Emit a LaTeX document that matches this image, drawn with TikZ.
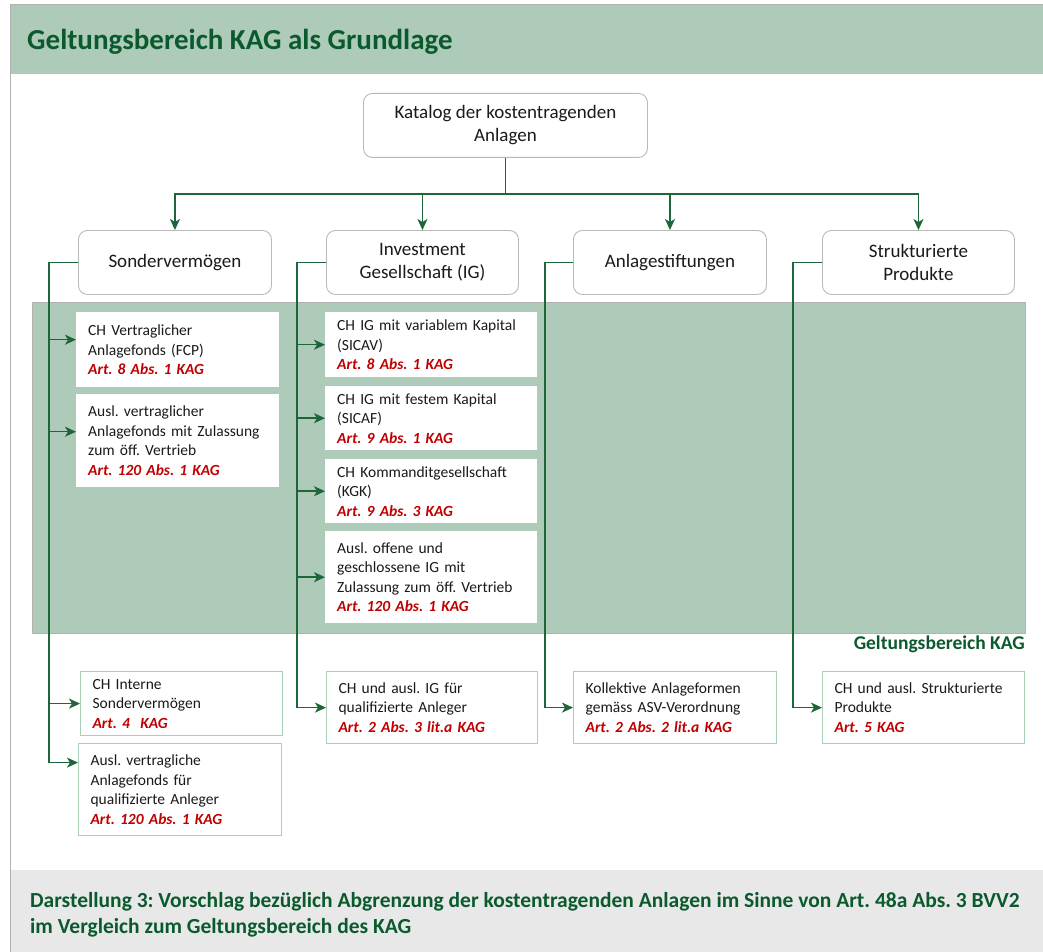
\documentclass[tikz,border=0pt]{standalone}
\usepackage{fontspec}
\setmainfont{Carlito}
\usetikzlibrary{arrows.meta}
\definecolor{hdr}{HTML}{AECBB9}
\definecolor{dg}{HTML}{0B5A2E}
\definecolor{ln}{HTML}{1E6639}
\definecolor{rd}{HTML}{C00000}
\definecolor{bxl}{HTML}{A9D0B5}
\definecolor{txt}{HTML}{1A1A1A}
\definecolor{capbg}{HTML}{E8E8E8}
\newcommand{\art}[1]{{\color{rd}\bfseries\itshape #1}}
\frenchspacing
\tikzset{
  catbox/.style={draw=gray!55, line width=0.9pt, rounded corners=9pt, fill=white, anchor=north west,
    align=center, text=txt, font=\fontsize{19}{23}\selectfont, minimum height=64pt, inner sep=0pt},
  ibox/.style={fill=white, anchor=north west, align=left, text=txt, inner xsep=12pt, inner ysep=0pt,
    font=\fontsize{15.5}{19.5}\selectfont},
  obox/.style={ibox, draw=bxl, line width=1.2pt},
  arr/.style={draw=ln, line width=1.5pt, -{Stealth[length=11pt,width=10pt,inset=3pt]}},
}
\begin{document}
\begin{tikzpicture}[x=1pt,y=-1pt]
\useasboundingbox (0,0) rectangle (1043,952);
\fill[white] (0,0) rectangle (1043,952);
% header
\fill[hdr] (11,5) rectangle (1043,74);
\draw[gray!60, line width=1pt] (10,5) -- (1043,5);
\draw[gray!60, line width=1pt] (10,5) -- (10,952);
\node[anchor=west, text=dg, font=\fontsize{29}{34}\selectfont\bfseries, inner sep=0pt] (title) at (27,42) {Geltungsbereich KAG als Grundlage};
% caption band
\fill[capbg] (11,870) rectangle (1043,952);
\node[anchor=north west, align=left, text=dg, font=\fontsize{21.5}{26}\selectfont\bfseries, inner sep=0pt] (cap) at (30,892)
  {Darstellung 3: Vorschlag bezüglich Abgrenzung der kostentragenden Anlagen im Sinne von Art. 48a Abs. 3 BVV2\\im Vergleich zum Geltungsbereich des KAG};
% KAG area
\node[fill=hdr, draw=gray!60, line width=0.8pt, anchor=north west, minimum width=993pt, minimum height=331pt, inner sep=0pt] (kag) at (32,302) {};
\node[anchor=north east, text=dg, font=\fontsize{19.5}{22}\selectfont\bfseries, inner sep=0pt] (kaglbl) at (1025,636) {Geltungsbereich KAG};
% top
\node[catbox, minimum width=284pt] (cat) at (363,93) {Katalog der kostentragenden\\Anlagen};
\node[catbox, minimum width=193pt] (sv) at (78,230) {Sondervermögen};
\node[catbox, minimum width=192pt] (ig) at (326,230) {Investment\\Gesellschaft (IG)};
\node[catbox, minimum width=193pt] (as) at (573,230) {Anlagestiftungen};
\node[catbox, minimum width=192pt] (sp) at (822,230) {Strukturierte\\Produkte};
\foreach \t in {sv,ig,as,sp}{
  \draw[arr] (cat.south) -- ++(0,36) -| (\t.north);
}
% Sondervermoegen column
\node[ibox, text width=179pt, minimum height=75pt] (s1) at (76,312) {CH Vertraglicher\\Anlagefonds (FCP)\\\art{Art. 8 Abs. 1 KAG}};
\node[ibox, text width=179pt, minimum height=93pt] (s2) at (76,394) {Ausl. vertraglicher\\Anlagefonds mit Zulassung\\zum öff. Vertrieb\\\art{Art. 120 Abs. 1 KAG}};
\node[obox, text width=178pt, minimum height=64pt] (b1) at (80,671) {CH Interne\\Sondervermögen\\\art{Art. 4\ \ KAG}};
\node[obox, text width=179pt, minimum height=92pt] (b2) at (78,743) {Ausl. vertragliche\\Anlagefonds für\\qualifizierte Anleger\\\art{Art. 120 Abs. 1 KAG}};
\draw[arr] (sv.west) -- ++(-29,0) |- ([yshift=10pt]s1.west);
\draw[arr] (sv.west) -- ++(-29,0) |- ([yshift=9pt]s2.west);
\draw[arr] (sv.west) -- ++(-29,0) |- (b1.west);
\draw[arr] (sv.west) -- ++(-29,0) |- ([yshift=27pt]b2.west);
% IG column
\node[ibox, text width=188pt, minimum height=65pt] (i1) at (325,312) {CH IG mit variablem Kapital\\(SICAV)\\\art{Art. 8 Abs. 1 KAG}};
\node[ibox, text width=188pt, minimum height=64pt] (i2) at (325,386) {CH IG mit festem Kapital\\(SICAF)\\\art{Art. 9 Abs. 1 KAG}};
\node[ibox, text width=188pt, minimum height=64pt] (i3) at (325,459) {CH Kommanditgesellschaft\\(KGK)\\\art{Art. 9 Abs. 3 KAG}};
\node[ibox, text width=188pt, minimum height=92pt] (i4) at (325,531) {Ausl. offene und\\geschlossene IG mit\\Zulassung zum öff. Vertrieb\\\art{Art. 120 Abs. 1 KAG}};
\node[obox, text width=187pt, minimum height=72pt] (b3) at (326,671) {CH und ausl. IG für\\qualifizierte Anleger\\\art{Art. 2 Abs. 3 lit.a KAG}};
\foreach \t in {i1,i2,i3,i4,b3}{
  \draw[arr] (ig.west) -- ++(-29,0) |- (\t.west);
}
% Anlagestiftungen
\node[obox, text width=179pt, minimum height=72pt] (b4) at (573,671) {Kollektive Anlageformen\\gemäss ASV-Verordnung\\\art{Art. 2 Abs. 2 lit.a KAG}};
\draw[arr] (as.west) -- ++(-28,0) |- (b4.west);
% Strukturierte Produkte
\node[obox, text width=178pt, minimum height=72pt] (b5) at (822,671) {CH und ausl. Strukturierte\\Produkte\\\art{Art. 5 KAG}};
\draw[arr] (sp.west) -- ++(-29,0) |- (b5.west);
\end{tikzpicture}
\end{document}
